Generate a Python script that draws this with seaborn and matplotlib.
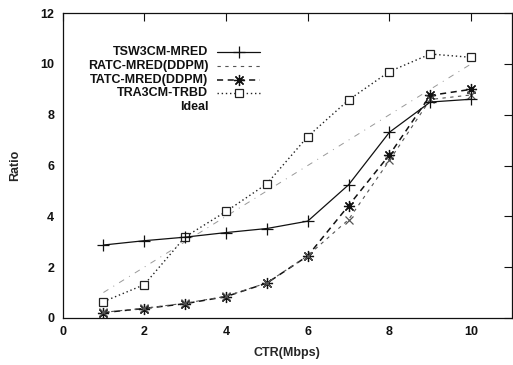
import seaborn as sns
import matplotlib.pyplot as plt
from matplotlib.lines import Line2D
import pandas as pd

sns.set_theme(style="white")
plt.rcParams['font.family'] = ['Liberation Sans', 'DejaVu Sans']
plt.rcParams['font.weight'] = 'bold'

### data
ctr = [1, 2, 3, 4, 5, 6, 7, 8, 9, 10]
tsw3cm_mred = [2.87, 3.04, 3.18, 3.36, 3.52, 3.81, 5.24, 7.31, 8.50, 8.61]
ratc_mred = [0.22, 0.38, 0.58, 0.85, 1.38, 2.45, 3.87, 6.20, 8.60, 8.78]
tatc_mred = [0.21, 0.37, 0.56, 0.84, 1.37, 2.44, 4.42, 6.42, 8.76, 9.00]
tra3cm_trbd = [0.64, 1.31, 3.19, 4.19, 5.28, 7.14, 8.58, 9.70, 10.39, 10.26]
ideal = [1, 2, 3, 4, 5, 6, 7, 8, 9, 10]

labels = ['TSW3CM-MRED', 'RATC-MRED(DDPM)', 'TATC-MRED(DDPM)', 'TRA3CM-TRBD', 'Ideal']

df = pd.DataFrame({'ctr': ctr, 'tsw': tsw3cm_mred, 'ratc': ratc_mred,
                   'tatc': tatc_mred, 'tra': tra3cm_trbd, 'ideal': ideal})

asterisk = (8, 2, 0)
styles = [
    dict(y='tsw', color='#111111', linestyle='-', marker='+', markersize=8, lw=0.9),
    dict(y='ratc', color='#555555', linestyle=(0, (3, 4)), marker='x', markersize=5.5, lw=0.8),
    dict(y='tatc', color='#111111', linestyle=(0, (4, 3)), marker=asterisk, markersize=8, lw=1.1),
    dict(y='tra', color='#222222', linestyle=(0, (1, 2)), marker='s', markersize=5.5, lw=1.0),
    dict(y='ideal', color='#999999', linestyle=(0, (6, 6, 1, 6)), marker=None, markersize=0, lw=0.7),
]

fig = plt.figure(figsize=(5.13, 3.65), dpi=100)
ax = fig.add_axes([0.122, 0.129, 0.876, 0.835])

# ideal first so that it sits underneath
for st in styles[::-1]:
    sns.lineplot(data=df, x='ctr', y=st['y'], ax=ax, color=st['color'],
                 linestyle=st['linestyle'], linewidth=st['lw'],
                 marker=st['marker'], markersize=st['markersize'],
                 markeredgecolor=st['color'], markerfacecolor='white',
                 markeredgewidth=0.9)

ax.set_xlim(0, 11)
ax.set_ylim(0, 12)
ax.set_xticks([0, 2, 4, 6, 8, 10])
ax.set_yticks([0, 2, 4, 6, 8, 10, 12])
ax.tick_params(direction='in', length=6, width=0.8, top=True, right=True,
               labelsize=9, colors='#111111', pad=6)
for sp in ax.spines.values():
    sp.set_color('#111111')
    sp.set_linewidth(0.9)
ax.set_xlabel('CTR(Mbps)', fontsize=9, fontweight='bold', labelpad=6)
ax.set_ylabel('Ratio', fontsize=9, fontweight='bold', labelpad=14)

### manual legend (right-aligned text, sample on the right)
row_y = [0.873, 0.827, 0.781, 0.737, 0.691]
for st, lab, yy in zip(styles, labels, row_y):
    ax.text(0.324, yy, lab, transform=ax.transAxes, ha='right', va='center',
            fontsize=9, fontweight='bold', color='#111111')
    if lab == 'Ideal':
        continue
    ax.add_line(Line2D([0.344, 0.44], [yy, yy], transform=ax.transAxes,
                       color=st['color'], linestyle=st['linestyle'], linewidth=st['lw']))
    if st['y'] == 'ratc':
        continue
    ax.add_line(Line2D([0.392], [yy], transform=ax.transAxes, color=st['color'],
                       marker=st['marker'], markersize=st['markersize'],
                       markeredgecolor=st['color'], markerfacecolor='white',
                       markeredgewidth=0.9, linestyle='none'))

fig.savefig('out.png', dpi=100)
